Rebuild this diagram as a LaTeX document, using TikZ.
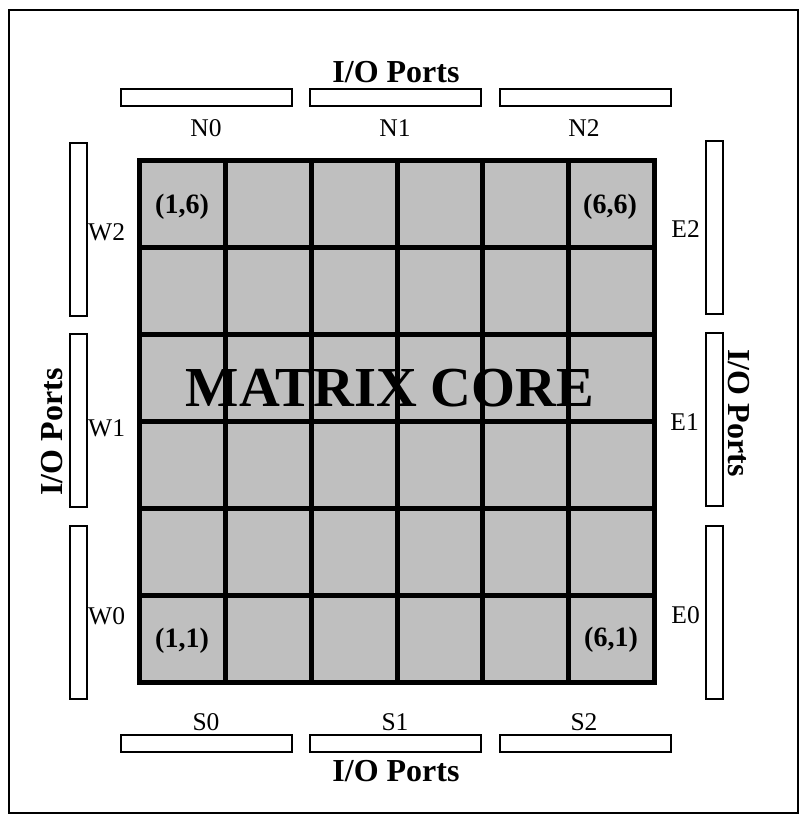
\documentclass[tikz,border=0pt]{standalone}
\usepackage{fontspec}
\setmainfont{Liberation Serif}
\begin{document}
\begin{tikzpicture}[x=1pt,y=-1pt,
  port/.style={draw, line width=2pt, fill=white, inner sep=0pt, rectangle},
  hport/.style={port, minimum width=171pt, minimum height=17pt},
  vport/.style={port, minimum width=17pt, minimum height=173pt},
  lab/.style={font=\fontsize{25.5}{30}\selectfont, inner sep=0pt},
  iolab/.style={font=\bfseries\fontsize{32}{36}\selectfont, inner sep=0pt},
  celllab/.style={font=\bfseries\fontsize{28}{32}\selectfont, inner sep=0pt},
  gridline/.style={line width=5pt, line cap=rect}]
\useasboundingbox (0,0) rectangle (801,816);
\draw[line width=1.5pt] (9,10) rectangle (798,813);
% core
\fill[black!25] (139.5,160) rectangle (654.5,682);
\foreach \i in {0,...,6} {
  \draw[gridline] ({139.5+\i*85.833},160) -- ({139.5+\i*85.833},682);
  \draw[gridline] (139.5,{160+\i*87}) -- (654.5,{160+\i*87});
}
\node[font=\bfseries\fontsize{56.5}{60}\selectfont, inner sep=0pt] (core) at (390,388) {MATRIX CORE};
\node[celllab] (c16) at (182,207) {(1,6)};
\node[celllab] (c66) at (610,207) {(6,6)};
\node[celllab] (c11) at (182,641) {(1,1)};
\node[celllab] (c61) at (611,640) {(6,1)};
% north ports
\node[hport] (N0) at (206.5,97.5) {};
\node[hport] (N1) at (395.5,97.5) {};
\node[hport] (N2) at (585.5,97) {};
\node[lab] (lN0) at (206,128) {N0};
\node[lab] (lN1) at (395,128) {N1};
\node[lab] (lN2) at (584,128) {N2};
% south ports
\node[hport] (S0) at (206.5,743.5) {};
\node[hport] (S1) at (395.5,743.5) {};
\node[hport] (S2) at (585.5,743.5) {};
\node[lab] (lS0) at (206,722) {S0};
\node[lab] (lS1) at (395,722) {S1};
\node[lab] (lS2) at (584,722) {S2};
% west ports
\node[vport] (W2) at (78.5,229) {};
\node[vport] (W1) at (78.5,420.5) {};
\node[vport] (W0) at (78.5,612.5) {};
\node[lab, anchor=west] (lW2) at (88,232) {W2};
\node[lab, anchor=west] (lW1) at (88,428) {W1};
\node[lab, anchor=west] (lW0) at (88,616) {W0};
% east ports
\node[vport] (E2) at (714.5,227.5) {};
\node[vport] (E1) at (714.5,419.5) {};
\node[vport] (E0) at (714.5,612.5) {};
\node[lab, anchor=east] (lE2) at (700,229) {E2};
\node[lab, anchor=east] (lE1) at (699,422) {E1};
\node[lab, anchor=east] (lE0) at (700,615) {E0};
% I/O labels
\node[iolab] (ioN) at (396,72) {I/O Ports};
\node[iolab] (ioS) at (396,771) {I/O Ports};
\node[iolab, rotate=90] (ioW) at (52,432) {I/O Ports};
\node[iolab, rotate=-90] (ioE) at (739,413) {I/O Ports};
\end{tikzpicture}
\end{document}
